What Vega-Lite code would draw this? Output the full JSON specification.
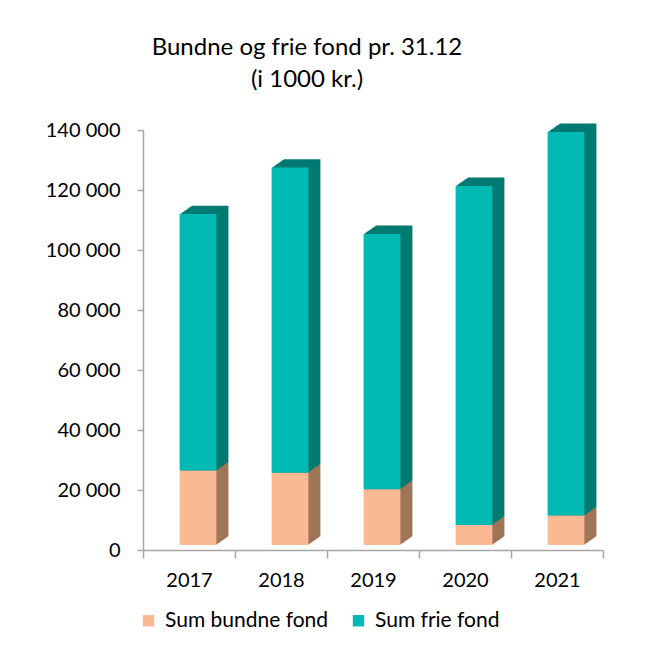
{
  "$schema": "https://vega.github.io/schema/vega-lite/v6.json",
  "autosize": {"type": "none"},
  "width": 460,
  "height": 420,
  "padding": {"left": 143, "top": 130, "right": 69, "bottom": 105},
  "background": "white",
  "config": {"view": {"stroke": null}, "font": "Lato"},
  "title": {
    "text": ["Bundne og frie fond pr. 31.12", "(i 1000 kr.)"],
    "font": "Lato", "fontSize": 24, "fontWeight": "normal", "color": "#000000",
    "anchor": "middle", "dx": -66, "offset": 28, "lineHeight": 32
  },
  "data": {"values": [
    {"year": "2017", "serie": "Sum bundne fond", "value": 24800},
    {"year": "2017", "serie": "Sum frie fond", "value": 85500},
    {"year": "2018", "serie": "Sum bundne fond", "value": 24100},
    {"year": "2018", "serie": "Sum frie fond", "value": 101700},
    {"year": "2019", "serie": "Sum bundne fond", "value": 18600},
    {"year": "2019", "serie": "Sum frie fond", "value": 85100},
    {"year": "2020", "serie": "Sum bundne fond", "value": 6700},
    {"year": "2020", "serie": "Sum frie fond", "value": 113000},
    {"year": "2021", "serie": "Sum bundne fond", "value": 9800},
    {"year": "2021", "serie": "Sum frie fond", "value": 127900}
  ]},
  "encoding": {
    "x": {"field": "year", "type": "nominal", "title": null,
      "scale": {"paddingInner": 0, "paddingOuter": 0},
      "axis": {"labelAngle": 0, "tickBand": "extent", "tickSize": 8, "labelPadding": 12,
        "labelFont": "Lato", "labelFontSize": 20, "labelColor": "#000000",
        "domainColor": "#A6A6A6", "domainWidth": 1.5, "tickColor": "#A6A6A6", "tickWidth": 1.5}},
    "y": {"field": "value", "type": "quantitative", "aggregate": "sum", "stack": "zero", "title": null,
      "scale": {"domain": [0, 140000], "nice": false},
      "axis": {"values": [0, 20000, 40000, 60000, 80000, 100000, 120000, 140000], "grid": false,
        "tickSize": 6, "labelPadding": 17, "labelFont": "Lato", "labelFontSize": 20, "labelColor": "#000000",
        "labelExpr": "replace(format(datum.value, ','), /,/g, ' ')",
        "domainColor": "#A6A6A6", "domainWidth": 1.5, "tickColor": "#A6A6A6", "tickWidth": 1.5}},
    "detail": {"field": "serie"},
    "order": {"field": "serie", "sort": "ascending"}
  },
  "layer": [
    {"mark": {"type": "bar", "width": {"band": 0.4}, "xOffset": 21, "yOffset": -13.4, "y2Offset": -13.4},
     "encoding": {"color": {"condition": {"test": "datum.serie == 'Sum bundne fond'", "value": "#A07558"}, "value": "#007A72"}}},
    {"mark": {"type": "bar", "width": {"band": 0.4}, "xOffset": 20, "yOffset": -12.7, "y2Offset": -12.7},
     "encoding": {"color": {"condition": {"test": "datum.serie == 'Sum bundne fond'", "value": "#A07558"}, "value": "#007A72"}}},
    {"mark": {"type": "bar", "width": {"band": 0.4}, "xOffset": 19, "yOffset": -12, "y2Offset": -12},
     "encoding": {"color": {"condition": {"test": "datum.serie == 'Sum bundne fond'", "value": "#A07558"}, "value": "#007A72"}}},
    {"mark": {"type": "bar", "width": {"band": 0.4}, "xOffset": 18, "yOffset": -11.3, "y2Offset": -11.3},
     "encoding": {"color": {"condition": {"test": "datum.serie == 'Sum bundne fond'", "value": "#A07558"}, "value": "#007A72"}}},
    {"mark": {"type": "bar", "width": {"band": 0.4}, "xOffset": 17, "yOffset": -10.6, "y2Offset": -10.6},
     "encoding": {"color": {"condition": {"test": "datum.serie == 'Sum bundne fond'", "value": "#A07558"}, "value": "#007A72"}}},
    {"mark": {"type": "bar", "width": {"band": 0.4}, "xOffset": 16, "yOffset": -9.9, "y2Offset": -9.9},
     "encoding": {"color": {"condition": {"test": "datum.serie == 'Sum bundne fond'", "value": "#A07558"}, "value": "#007A72"}}},
    {"mark": {"type": "bar", "width": {"band": 0.4}, "xOffset": 15, "yOffset": -9.2, "y2Offset": -9.2},
     "encoding": {"color": {"condition": {"test": "datum.serie == 'Sum bundne fond'", "value": "#A07558"}, "value": "#007A72"}}},
    {"mark": {"type": "bar", "width": {"band": 0.4}, "xOffset": 14, "yOffset": -8.5, "y2Offset": -8.5},
     "encoding": {"color": {"condition": {"test": "datum.serie == 'Sum bundne fond'", "value": "#A07558"}, "value": "#007A72"}}},
    {"mark": {"type": "bar", "width": {"band": 0.4}, "xOffset": 13, "yOffset": -7.8, "y2Offset": -7.8},
     "encoding": {"color": {"condition": {"test": "datum.serie == 'Sum bundne fond'", "value": "#A07558"}, "value": "#007A72"}}},
    {"mark": {"type": "bar", "width": {"band": 0.4}, "xOffset": 12, "yOffset": -7.1, "y2Offset": -7.1},
     "encoding": {"color": {"condition": {"test": "datum.serie == 'Sum bundne fond'", "value": "#A07558"}, "value": "#007A72"}}},
    {"mark": {"type": "bar", "width": {"band": 0.4}, "xOffset": 11, "yOffset": -6.4, "y2Offset": -6.4},
     "encoding": {"color": {"condition": {"test": "datum.serie == 'Sum bundne fond'", "value": "#A07558"}, "value": "#007A72"}}},
    {"mark": {"type": "bar", "width": {"band": 0.4}, "xOffset": 10, "yOffset": -5.7, "y2Offset": -5.7},
     "encoding": {"color": {"condition": {"test": "datum.serie == 'Sum bundne fond'", "value": "#A07558"}, "value": "#007A72"}}},
    {"mark": {"type": "bar", "width": {"band": 0.4}, "xOffset": 9, "yOffset": -5, "y2Offset": -5},
     "encoding": {"color": {"field": "serie", "type": "nominal",
       "scale": {"domain": ["Sum bundne fond", "Sum frie fond"], "range": ["#FAB993", "#00BAB3"]},
       "legend": {"title": null, "orient": "none", "legendX": -5, "legendY": 480, "direction": "horizontal",
         "symbolType": "square", "symbolSize": 130, "symbolStrokeWidth": 0, "labelFont": "Lato", "labelFontSize": 21,
         "labelColor": "#000000", "labelOffset": 6, "columnPadding": 19, "labelLimit": 300}}}}
  ]
}
